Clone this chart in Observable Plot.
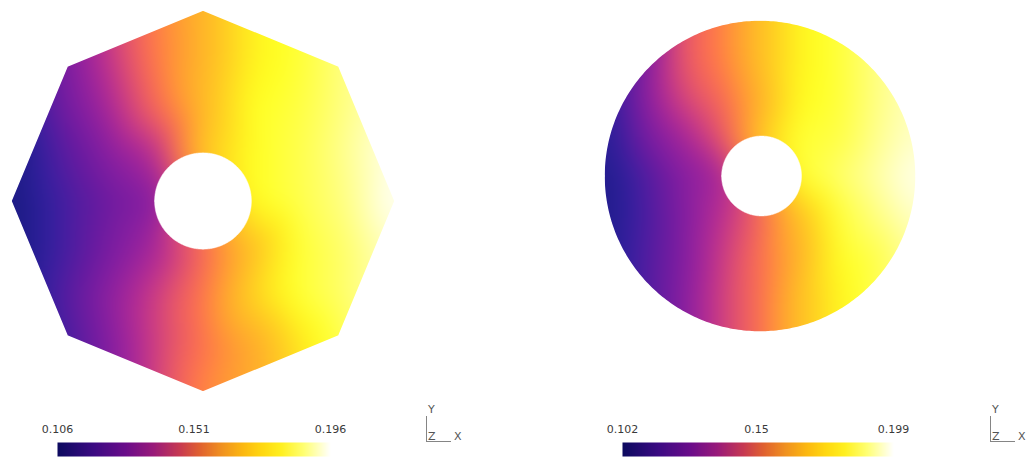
<!DOCTYPE html>
<html><head><meta charset="utf-8">
<script src="https://cdn.jsdelivr.net/npm/d3@7"></script>
<script src="https://cdn.jsdelivr.net/npm/@observablehq/plot@0.6"></script>
<style>
html,body{margin:0;padding:0;background:#fff;}
#root{position:relative;width:1029px;height:459px;overflow:hidden;font-family:"DejaVu Sans",sans-serif;background:#fff;}
.tri{position:absolute;font-size:11px;color:#555;line-height:11px;font-family:"DejaVu Sans",sans-serif;}
.tl{position:absolute;background:#858585;}
</style></head><body><div id="root"></div>
<script>
// ---- data: 9x9 samples on [-1,1]^2, rows top (y=+1) to bottom (y=-1)
const gridCoords = [-1, -0.75, -0.5, -0.25, 0, 0.25, 0.5, 0.75, 1];
const octagonField = [
  [0.122,0.133,0.144,0.155,0.165,0.176,0.180,0.187,0.192],
  [0.118,0.131,0.142,0.154,0.165,0.176,0.180,0.187,0.192],
  [0.111,0.129,0.139,0.151,0.166,0.178,0.181,0.187,0.192],
  [0.106,0.124,0.134,0.141,0.169,0.178,0.182,0.188,0.195],
  [0.106,0.120,0.129,0.134,0.156,0.178,0.182,0.187,0.196],
  [0.106,0.120,0.131,0.139,0.151,0.167,0.180,0.185,0.192],
  [0.106,0.123,0.135,0.144,0.154,0.171,0.180,0.185,0.192],
  [0.109,0.120,0.133,0.144,0.153,0.162,0.174,0.183,0.190],
  [0.110,0.120,0.133,0.144,0.156,0.162,0.174,0.183,0.190]
];
const diskField = [
  [0.118,0.128,0.147,0.155,0.168,0.178,0.182,0.189,0.194],
  [0.114,0.130,0.147,0.155,0.168,0.178,0.182,0.189,0.194],
  [0.111,0.132,0.144,0.151,0.165,0.179,0.182,0.189,0.194],
  [0.108,0.128,0.137,0.147,0.170,0.182,0.183,0.190,0.195],
  [0.105,0.120,0.132,0.137,0.157,0.182,0.187,0.192,0.198],
  [0.105,0.119,0.131,0.140,0.150,0.168,0.182,0.189,0.195],
  [0.107,0.120,0.131,0.142,0.152,0.165,0.180,0.184,0.192],
  [0.108,0.120,0.132,0.143,0.152,0.168,0.178,0.184,0.192],
  [0.108,0.120,0.132,0.143,0.152,0.168,0.178,0.184,0.192]
];
const octagonRange = [0.106, 0.196];
const diskRange = [0.102, 0.199];
const octagonTicks = [0.106, 0.151, 0.196];
const octagonTickLabels = ["0.106", "0.151", "0.196"];
const diskTicks = [0.102, 0.15, 0.199];
const diskTickLabels = ["0.102", "0.15", "0.199"];
// colour bar ramp (flat) and the same ramp as it appears on the lit surface
const barStops = [0, 0.13, 0.25, 0.35, 0.45, 0.52, 0.60, 0.68, 0.75, 0.82, 0.90, 1];
const barRamp = ["#0c0a60","#3a0a82","#6a0c8a","#981a7a","#c83a50","#e06030","#f09020","#fcb810","#ffd810","#fff020","#ffff70","#ffffff"];
const surfaceStops = [0, 0.12, 0.25, 0.33, 0.40, 0.45, 0.52, 0.60, 0.72, 0.80, 0.88, 1];
const surfaceRamp = ["#1a1a80","#3020a0","#6a1aa0","#9020a0","#c03090","#e05070","#ff7050","#ffa030","#ffd020","#ffff20","#ffff70","#ffffff"];
const octagonHole = 0.252;
const diskHole = 0.256;

// ---- helpers
function colorScale(range, stops, ramp) {
  return {type: "linear", domain: stops.map(s => range[0] + s * (range[1] - range[0])),
          range: ramp, interpolate: "rgb", clamp: true};
}
function samples(field) {
  return field.flatMap((row, j) => row.map((value, i) => ({x: gridCoords[i], y: gridCoords[gridCoords.length - 1 - j], value})));
}
function octagonBoundary(sign) {
  const pts = [[-1.05, 0]];
  for (let k = 0; k <= 4; k++) {
    const a = Math.PI - k * Math.PI / 4;
    pts.push([Math.cos(a), sign * Math.sin(a)]);
  }
  pts.push([1.05, 0]);
  return pts;
}
function circleBoundary(sign, r, cx) {
  const pts = [];
  if (r >= 1) pts.push([-1.05, 0]);
  for (let k = 0; k <= 180; k++) {
    const a = Math.PI - k * Math.PI / 180;
    pts.push([cx + r * Math.cos(a), sign * r * Math.sin(a)]);
  }
  if (r >= 1) pts.push([1.05, 0]);
  return pts;
}
const maskStyle = {fill: "white", stroke: "white", strokeWidth: 1.5};

function panel(field, range, outerTop, outerBottom, hole, holeCx, m, w, h) {
  return Plot.plot({
    width: w, height: h,
    marginLeft: m[0], marginRight: m[1], marginTop: m[2], marginBottom: m[3],
    style: {background: "transparent"},
    x: {domain: [-1, 1], axis: null},
    y: {domain: [-1, 1], axis: null},
    color: colorScale(range, surfaceStops, surfaceRamp),
    marks: [
      Plot.raster(samples(field), {x: "x", y: "y", fill: "value", interpolate: "barycentric", pixelSize: 1, blur: 12,
        x1: -1, x2: 1, y1: -1, y2: 1}),
      Plot.areaY(outerTop, {x: d => d[0], y1: d => d[1], y2: 1.05, ...maskStyle}),
      Plot.areaY(outerBottom, {x: d => d[0], y1: d => d[1], y2: -1.05, ...maskStyle}),
      Plot.areaY(circleBoundary(1, hole, holeCx), {x: d => d[0], y1: d => -d[1], y2: d => d[1], fill: "white", stroke: "white", strokeWidth: 0.5})
    ]
  });
}

function colorbar(range, ticks, labels, barWidth) {
  return Plot.plot({
    width: 57 + barWidth + 70, height: 59,
    marginLeft: 57, marginRight: 70, marginTop: 42, marginBottom: 3,
    style: {background: "transparent", fontFamily: "DejaVu Sans", fontSize: "11px", color: "#3a3a3a"},
    x: {domain: range},
    y: {domain: [0, 1], axis: null},
    color: colorScale(range, barStops, barRamp),
    marks: [
      Plot.raster({x1: range[0], x2: range[1], y1: 0, y2: 1, fill: (x, y) => x, pixelSize: 1}),
      Plot.axisX({anchor: "top", ticks, tickFormat: (d, i) => labels[i], tickSize: 0, tickPadding: 10, fontSize: 11})
    ]
  });
}

function place(el, left, top) {
  el.style.position = "absolute";
  el.style.left = left + "px";
  el.style.top = top + "px";
  root.appendChild(el);
}
const root = document.getElementById("root");

place(panel(octagonField, octagonRange, octagonBoundary(1), octagonBoundary(-1), octagonHole, 0, [11, 15, 10, 8], 410, 400), 0, 0);
place(panel(diskField, diskRange, circleBoundary(1, 1, 0), circleBoundary(-1, 1, 0), diskHole, 0.01, [24, 34, 20, 13], 370, 345), 580, 0);
place(colorbar(octagonRange, octagonTicks, octagonTickLabels, 273), 0, 400);
place(colorbar(diskRange, diskTicks, diskTickLabels, 271), 565, 400);

function triad(x0) {
  const mk = (cls, css, txt) => { const d = document.createElement("div"); d.className = cls; Object.assign(d.style, css); if (txt) d.textContent = txt; root.appendChild(d); };
  mk("tl", {left: x0 + "px", top: "416px", width: "1px", height: "26px"});
  mk("tl", {left: x0 + "px", top: "441px", width: "25px", height: "1px"});
  mk("tri", {left: (x0 + 2) + "px", top: "404px"}, "Y");
  mk("tri", {left: (x0 + 2) + "px", top: "431px"}, "Z");
  mk("tri", {left: (x0 + 28) + "px", top: "431px"}, "X");
}
triad(426);
triad(990);
</script></body></html>
